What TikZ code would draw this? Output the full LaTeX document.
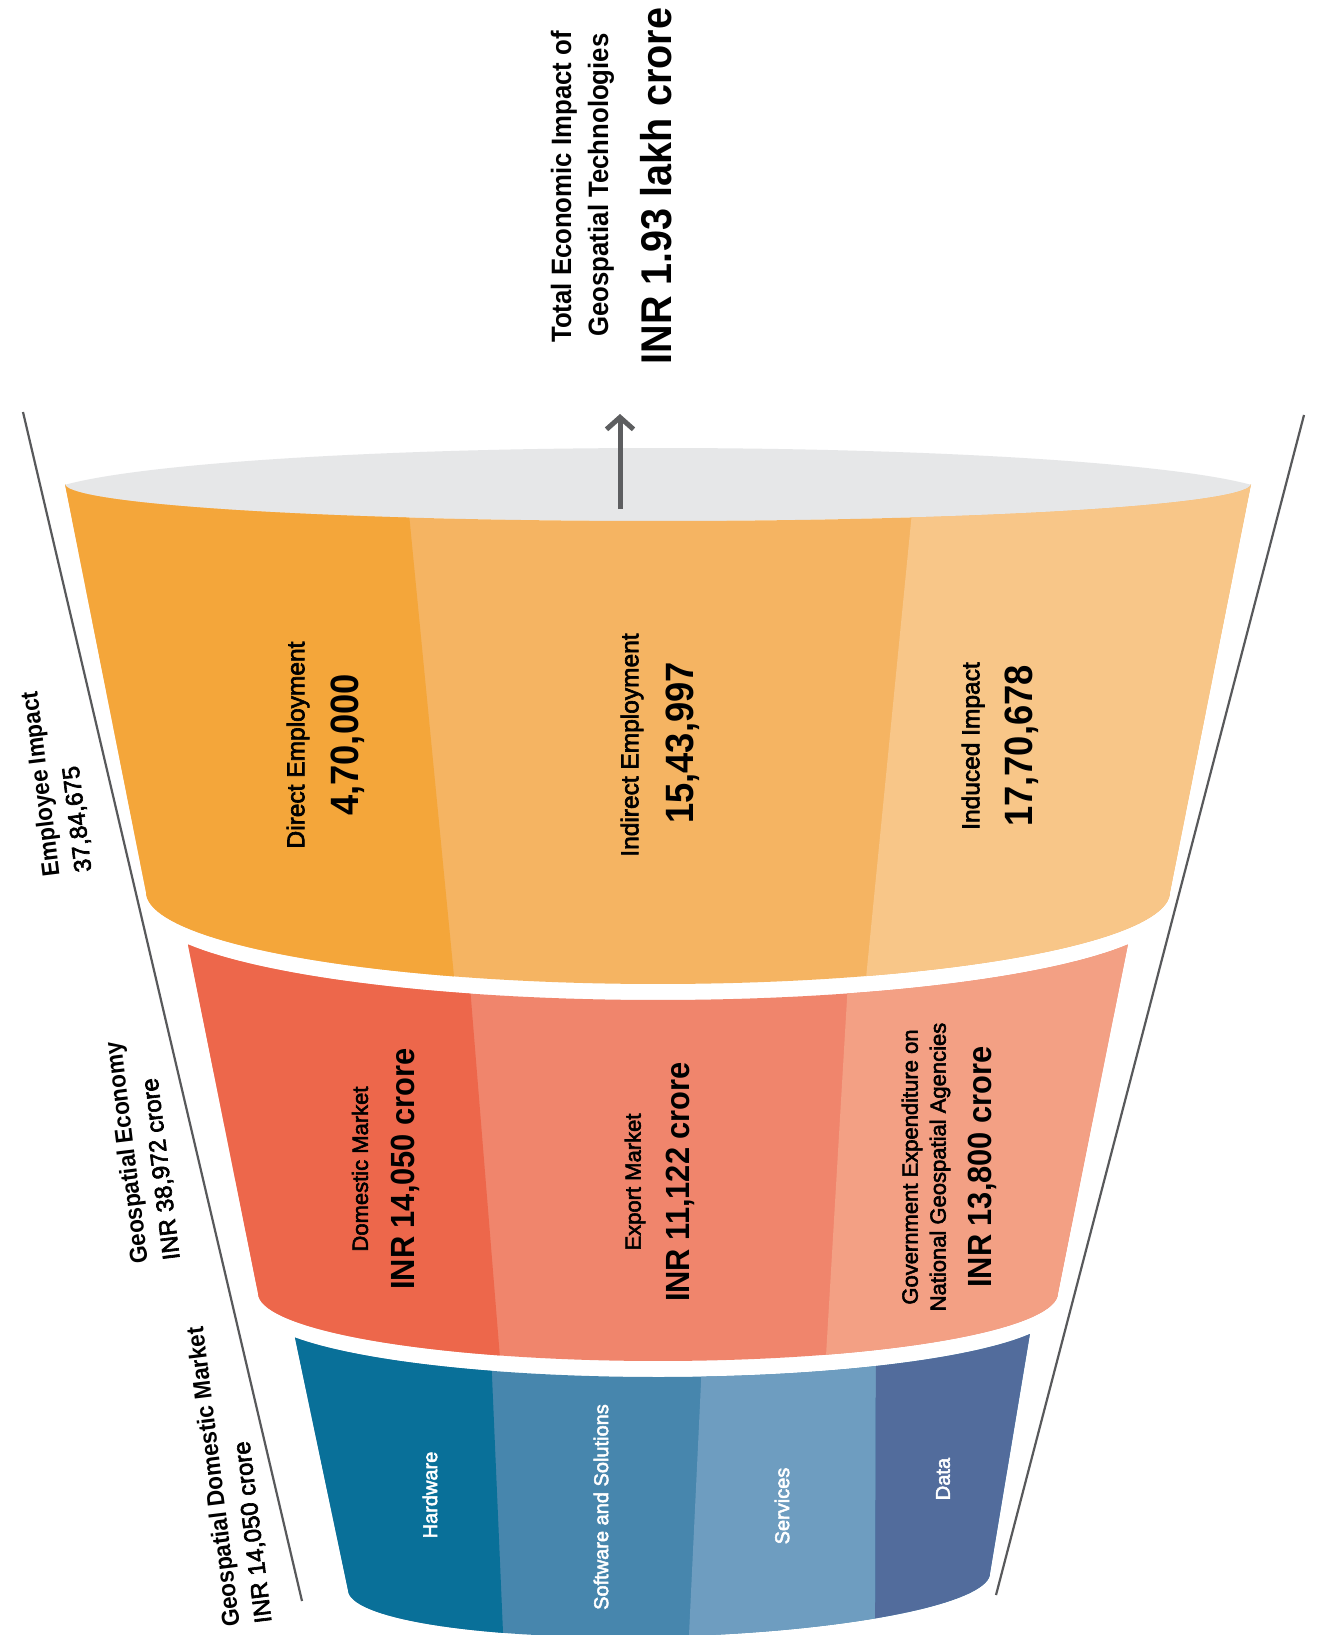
\documentclass[tikz,border=0pt]{standalone}
\usepackage{fontspec}
\setmainfont{Liberation Sans}
\newfontfamily\cnd{Liberation Sans}[FakeStretch=0.92]
\newfontfamily\med{Liberation Sans}[FakeBold=2.6]
\newcommand\bnum{\cnd\bfseries}
\usetikzlibrary{arrows.meta}
\definecolor{oA}{HTML}{F4A63A}
\definecolor{oB}{HTML}{F5B462}
\definecolor{oC}{HTML}{F8C688}
\definecolor{rA}{HTML}{ED674B}
\definecolor{rB}{HTML}{F0856C}
\definecolor{rC}{HTML}{F3A084}
\definecolor{bA}{HTML}{097099}
\definecolor{bB}{HTML}{4786AD}
\definecolor{bC}{HTML}{6E9DC0}
\definecolor{bD}{HTML}{526C9C}
\definecolor{rimgray}{HTML}{E6E7E8}
\definecolor{guide}{HTML}{58595B}
\definecolor{arrowgray}{HTML}{5D5E60}
\begin{document}
\begin{tikzpicture}[x=1pt,y=-1pt,
  guideline/.style={draw=guide, line width=2.2pt},
  toplbl/.style={rotate=90, inner sep=0pt, font=\fontsize{28}{34}\selectfont\bnum},
  bigtop/.style={rotate=90, inner sep=0pt, font=\fontsize{43}{48}\selectfont\bnum},
  lbl/.style={rotate=90, inner sep=0pt, font=\fontsize{24.5}{28}\selectfont\med},
  num/.style={rotate=90, inner sep=0pt, font=\fontsize{39.5}{44}\selectfont\bnum},
  lblr/.style={rotate=90, inner sep=0pt, align=center, font=\fontsize{22}{28}\selectfont\med},
  numr/.style={rotate=90, inner sep=0pt, font=\fontsize{33.5}{38}\selectfont\bnum},
  lblb/.style={rotate=90, inner sep=0pt, text=white, font=\fontsize{20}{24}\selectfont\med},
  side/.style={rotate=97, inner sep=0pt, align=left, font=\fontsize{24}{32}\selectfont\med}
]
\useasboundingbox (0,0) rectangle (1317,1635);
\fill[white] (0,0) rectangle (1317,1635);

% guide lines
\coordinate (gL1) at (23,412);
\coordinate (gL2) at (302,1601);
\coordinate (gR1) at (1304,415);
\coordinate (gR2) at (996,1595);
\draw[guideline] (gL1) -- (gL2);
\draw[guideline] (gR1) -- (gR2);

% gray rim (lens-shaped opening)
\fill[rimgray] (65,484.8) -- plot[domain=163:17,samples=90,variable=\t] ({658+620*cos(\t)},{500-52*sin(\t)}) -- (1251,484) -- plot[domain=0:180,samples=90,variable=\t] ({658+593*cos(\t)},{484+37*sin(\t)}) -- cycle;

% orange band
\def\orangepath{(65,484) -- plot[domain=180:0,samples=90,variable=\t] ({658+593*cos(\t)},{484+37*sin(\t)}) -- (1170,892) -- plot[domain=0:180,samples=90,variable=\t] ({658+512*cos(\t)},{892+92*sin(\t)}) -- cycle}
\begin{scope}
\clip \orangepath;
\fill[oB] (0,380) rectangle (1317,1100);
\fill[oA] (0,380) -- (396,380) -- (466,1100) -- (0,1100) -- cycle;
\fill[oC] (925,380) -- (1317,380) -- (1317,1100) -- (854,1100) -- cycle;
\end{scope}

% red band
\def\redpath{(188,944.6) -- plot[domain=156.6:23.4,samples=70,variable=\t] ({658+512*cos(\t)},{908+92*sin(\t)}) -- (1058,1293) -- plot[domain=0:180,samples=70,variable=\t] ({658+400*cos(\t)},{1293+68*sin(\t)}) -- cycle}
\begin{scope}
\clip \redpath;
\fill[rB] (0,880) rectangle (1317,1400);
\fill[rA] (0,880) -- (461.4,880) -- (503.4,1400) -- (0,1400) -- cycle;
\fill[rC] (854,880) -- (1317,880) -- (1317,1400) -- (823.4,1400) -- cycle;
\end{scope}

% blue band
\def\bluepath{(295,1337.6) -- plot[domain=155.2:21.6,samples=70,variable=\t] ({658+400*cos(\t)},{1309+68*sin(\t)}) -- (990,1573) -- plot[domain=0:180,samples=70,variable=\t] ({669+321*cos(\t)+1.5*sin(\t)},{1581.5-8.5*cos(\t)+55*sin(\t)}) -- cycle}
\begin{scope}
\clip \bluepath;
\fill[bB] (0,1290) rectangle (1317,1700);
\fill[bA] (0,1290) -- (488.3,1290) -- (505.9,1700) -- (0,1700) -- cycle;
\fill[bC] (705.4,1290) -- (876,1290) -- (875,1700) -- (685.9,1700) -- cycle;
\fill[bD] (876,1290) -- (1317,1290) -- (1317,1700) -- (875,1700) -- cycle;
\end{scope}

% arrow
\coordinate (arrS) at (620,509);
\coordinate (arrE) at (620,414);
\draw[arrowgray, line width=5pt, -{Straight Barb[length=12pt,width=27pt]}] (arrS) -- (arrE);

% top texts
\node[toplbl] (t1) at (564,187) {Total Economic Impact of};
\node[toplbl] (t2) at (601,185) {Geospatial Technologies};
\node[bigtop] (t3) at (656,186) {INR 1.93 lakh crore};

% orange band texts
\node[lbl] (de) at (298,745) {Direct Employment};
\node[num] (den) at (348,745) {4,70,000};
\node[lbl] (ie) at (632,745) {Indirect Employment};
\node[num] (ien) at (683,743) {15,43,997};
\node[lbl] (ii) at (973,746) {Induced Impact};
\node[num] (iin) at (1022,746) {17,70,678};

% red band texts
\node[lblr] (dm) at (360,1169) {Domestic Market};
\node[numr] (dmn) at (405,1169) {INR 14,050 crore};
\node[lblr] (em) at (635,1182) {Export Market};
\node[numr] (emn) at (680,1182) {INR 11,122 crore};
\node[lblr] (gov) at (926,1167) {Government Expenditure on\\National Geospatial Agencies};
\node[numr] (govn) at (982,1167) {INR 13,800 crore};

% blue band texts
\node[lblb] (hw) at (430,1495) {Hardware};
\node[lblb] (sw) at (601,1507) {Software and Solutions};
\node[lblb] (sv) at (782,1506) {Services};
\node[lblb] (da) at (943,1479) {Data};

% side labels
\node[side] (emp) at (57,782) {{\fontsize{24.5}{32}\selectfont\bnum Employee Impact}\\37,84,675};
\node[side] (geo) at (143,1151) {{\fontsize{24.5}{32}\selectfont\bnum Geospatial Economy}\\INR 38,972 crore};
\node[side] (gdm) at (230,1475) {{\fontsize{24.5}{32}\selectfont\bnum Geospatial Domestic Market}\\INR 14,050 crore};
\end{tikzpicture}
\end{document}
